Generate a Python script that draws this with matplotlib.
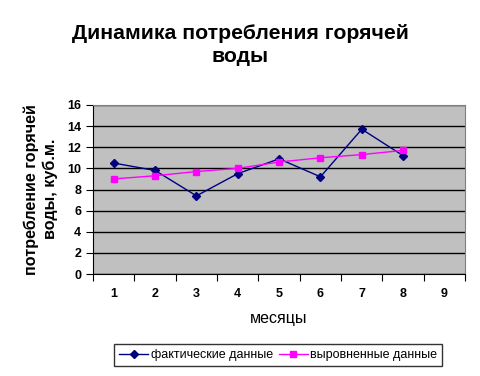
import matplotlib
matplotlib.use("Agg")
import matplotlib.pyplot as plt

plt.rcParams['font.family'] = ['Liberation Sans', 'DejaVu Sans']

# months and values
months = [1, 2, 3, 4, 5, 6, 7, 8]
actual = [10.5, 9.8, 7.4, 9.5, 10.9, 9.2, 13.7, 11.2]
trend = [9.0, 9.3, 9.7, 10.0, 10.6, 11.0, 11.3, 11.7]
x_labels = ['1', '2', '3', '4', '5', '6', '7', '8', '9']
y_ticks = [0, 2, 4, 6, 8, 10, 12, 14, 16]

fig = plt.figure(figsize=(4.8, 3.76), dpi=100)
ax = fig.add_axes([0.194, 0.271, 0.775, 0.45])
ax.set_facecolor('#C0C0C0')

ax.plot(months, actual, color='#000080', marker='D', markersize=4.5, linewidth=1,
        label='фактические данные')
ax.plot(months, trend, color='#FF00FF', marker='s', markersize=5, linewidth=1,
        label='выровненные данные')

ax.set_ylim(0, 16)
ax.set_yticks(y_ticks)
ax.set_yticklabels([str(v) for v in y_ticks], fontweight='bold', fontsize=9)
ax.yaxis.grid(True, color='black', linewidth=1)
ax.set_axisbelow(True)

ax.set_xlim(0.5, 9.5)
ax.set_xticks([i + 0.5 for i in range(10)])
ax.set_xticklabels([])
ax.set_xticks(range(1, 10), minor=True)
ax.set_xticklabels(x_labels, minor=True, fontweight='bold', fontsize=9)
ax.tick_params(axis='x', which='minor', length=0, pad=10)
ax.tick_params(axis='both', which='major', length=5, color='black')

for side in ['top', 'right']:
    ax.spines[side].set_color('#808080')

ax.set_xlabel('месяцы', fontsize=11.5, labelpad=8)
fig.text(0.085, 0.497, 'потребление горячей\nводы, куб.м.', rotation=90,
         ha='center', va='center', fontsize=11.6, fontweight='bold',
         linespacing=1.3, multialignment='center')

fig.text(0.5, 0.88, 'Динамика потребления горячей\nводы', ha='center', va='center',
         fontsize=15.3, fontweight='bold', multialignment='center', linespacing=1.25)

leg = fig.legend(loc='center', bbox_to_anchor=(0.58, 0.055),
                 ncol=2, fontsize=9, frameon=True, fancybox=False, edgecolor='black',
                 handlelength=2.3, handletextpad=0.2, columnspacing=0.5, borderpad=0.4,
                 borderaxespad=0, markerscale=0.8)
leg.get_frame().set_linewidth(1)

fig.savefig('out.png', dpi=100)
